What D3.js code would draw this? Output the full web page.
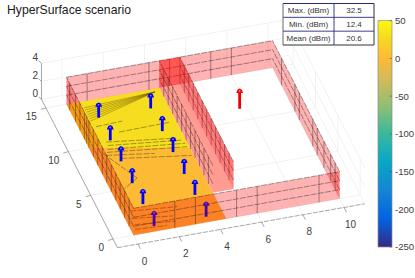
<!DOCTYPE html>
<html><head><meta charset="utf-8">
<script src="https://cdn.jsdelivr.net/npm/d3@7"></script>
<style>html,body{margin:0;padding:0;background:#fff}svg{display:block}text{font-family:"Liberation Sans",Arial,sans-serif}</style>
</head><body><svg id="c" width="415" height="278"></svg>
<script>
// ---- data ----
const titleText = "HyperSurface scenario";
const xTicks = [0,2,4,6,8,10];
const yTicks = [0,5,10,15];
const zTicks = [0,2,4];
const xLim = [-1,11], yLim = [-1,16], zLim = [0,4];
const colorTicks = [50,0,-50,-100,-150,-200,-250];
const colorStops = [[0,"#352a87"],[.125,"#0363e1"],[.25,"#1485d4"],[.375,"#06a7c6"],[.5,"#38b99e"],[.625,"#92bf73"],[.75,"#d9ba56"],[.833,"#fdba36"],[.93,"#f6dc20"],[1,"#f9fb0e"]];
const tableRows = [["Max. (dBm)","32.5"],["Min. (dBm)","12.4"],["Mean (dBm)","20.6"]];
const txPosX = [1.125,3.65];
const txPosY = [0.6,3.1,5.5,8,10.4,13];
const txHeight = 1.65;
const rxPoint = [7.6,11.3,2.2];
const floorCells = [
  {value:1,  poly:[[0,0],[4.5,0],[4.5,8.1],[0,10]]},
  {value:30, poly:[[0,10],[4.5,8.1],[4.5,15],[0,15]]}
];
const wallH = 3, wallZLines = [1,2,3];
const backVerticals = [1,4,5,5.5,7,8];
const frontVerticals = [2,3,5,6,9];
const leftVerticals = [1,2,3,4,5,6,7,8,9,10,10.5,11,12,13,14.3];
const rightVerticals = [1,2,3.5,5,6,9,10,13];
const innerVerticals = [4,5,6,7,8,9,10,11,12,13,14];
const innerBox = {x0:4.5,x1:5.5,y0:3,y1:15};
const fanLines = [
 [[4.2,14.65],[.7,14.3]],[[4.2,14.65],[.7,14.05]],[[4.2,14.65],[.7,13.8]],[[4.2,14.65],[.7,13.55]],
 [[4.2,14.65],[.7,13.3]],[[4.2,14.65],[.7,13.05]],[[4.2,14.65],[.7,12.8]]
];
const floorLines = [
 [[.8,12.1],[2.1,12.2]],[[1.7,11.1],[4.2,11.2]],
 [[.9,10.3],[4.1,9.4]],[[.9,9.9],[4.3,9.1]],[[.8,9.5],[4.4,8.7]],[[.7,9.2],[4.4,8.3]],
 [[.6,8.9],[2.8,8.2]],[[.5,9.2],[1.46,5.95]],[[1.46,5.95],[.56,4.95]],
 [[1.2,8.3],[4.4,7.3]],[[.4,2.6],[2.6,2.2]],[[.3,1.8],[2.2,1.3]],[[.3,1.1],[2.2,.7]],[[.2,.6],[1.7,.4]]
];

// ---- projection built from linear scales ----
const pxFromX = d3.scaleLinear().domain([0,10]).range([0,206]);
const pyFromX = d3.scaleLinear().domain([0,10]).range([0,-36.6]);
const pxFromY = d3.scaleLinear().domain([0,15]).range([0,-67.05]);
const pyFromY = d3.scaleLinear().domain([0,15]).range([0,-131]);
const pyFromZ = d3.scaleLinear().domain([0,4]).range([0,-36]);
const ox = 133.6, oy = 235.3;
const P = (x,y,z=0)=>[ox+pxFromX(x)+pxFromY(y), oy+pyFromX(x)+pyFromY(y)+pyFromZ(z)];
const line3 = d3.line();
const svg = d3.select("#c");
const poly = (g,pts,fill,op=1)=>g.append("path").attr("d",line3(pts)+"Z").attr("fill",fill).attr("fill-opacity",op);
const seg = (g,a,b,st,w,extra)=>{const s=g.append("path").attr("d",line3([a,b])).attr("fill","none").attr("stroke",st).attr("stroke-width",w);if(extra)s.attr("stroke-opacity",extra);return s;};

// ---- colour scale ----
const colorFrac = d3.scaleLinear().domain([-250,50]).range([0,1]);
const parula = d3.scaleLinear().domain(colorStops.map(d=>d[0])).range(colorStops.map(d=>d[1])).interpolate(d3.interpolateRgb);
const colour = v=>parula(colorFrac(v));

// ---- grid ----
const grid = svg.append("g");
const gc = "#ececec", gw = .7;
xTicks.forEach(x=>{seg(grid,P(x,yLim[0]),P(x,yLim[1]),gc,gw);seg(grid,P(x,yLim[1]),P(x,yLim[1],zLim[1]),gc,gw);});
yTicks.forEach(y=>{seg(grid,P(xLim[0],y),P(xLim[1],y),gc,gw);seg(grid,P(xLim[1],y),P(xLim[1],y,zLim[1]),gc,gw);});
zTicks.forEach(z=>{seg(grid,P(xLim[0],yLim[1],z),P(xLim[1],yLim[1],z),gc,gw);seg(grid,P(xLim[1],yLim[1],z),P(xLim[1],yLim[0],z),gc,gw);});

// ---- axes ----
const axis = svg.append("g"), ac="#808080", aw=.7;
seg(axis,P(xLim[0],yLim[0]),P(xLim[1],yLim[0]),ac,aw).attr("stroke-dasharray","5 1.2");
seg(axis,P(xLim[0],yLim[0]),P(xLim[0],yLim[1]),ac,aw);
seg(axis,P(xLim[0],yLim[1],zLim[0]),P(xLim[0],yLim[1],zLim[1]),ac,aw);
const label=(p,t,anchor,size=10)=>svg.append("text").attr("x",p[0]).attr("y",p[1]).attr("text-anchor",anchor).attr("font-size",size).attr("fill","#404040").text(t);
xTicks.forEach(x=>{const a=P(x,yLim[0]),b=P(x,yLim[0]-.55);seg(axis,a,b,ac,aw);label([a[0]+6.5,a[1]+20.5],x,"middle");});
yTicks.forEach(y=>{const a=P(xLim[0],y),b=[a[0]-5,a[1]+1.5];seg(axis,a,b,ac,aw);label([a[0]-9,a[1]+12.5],y,"end");});
zTicks.forEach(z=>{const a=P(xLim[0],yLim[1],z),b=[a[0]-3,a[1]-2.5];seg(axis,a,b,ac,aw);label([a[0]-3.5,a[1]-2.5],z,"end");});

// ---- floor ----
const scene = svg.append("g");
floorCells.forEach(c=>poly(scene,c.poly.map(d=>P(d[0],d[1])),colour(c.value)));
fanLines.forEach(l=>seg(scene,P(l[0][0],l[0][1]),P(l[1][0],l[1][1]),"#5a4500",.5,.75));
floorLines.forEach(l=>seg(scene,P(l[0][0],l[0][1]),P(l[1][0],l[1][1]),"#2a2200",.55,.75).attr("stroke-dasharray","6 1.5"));

// ---- walls ----
const wc="#ff0000", wa=.3, lc="#1a1a1a", lw=.55, lo=.75;
const zStyle = s=>s.attr("stroke-dasharray","6 1.2");
const xWall=(x,y0,y1,vs)=>{poly(scene,[P(x,y0,0),P(x,y1,0),P(x,y1,wallH),P(x,y0,wallH)],wc,wa);
  wallZLines.forEach(z=>zStyle(seg(scene,P(x,y0,z),P(x,y1,z),lc,lw,lo)));
  vs.forEach(y=>seg(scene,P(x,y,0),P(x,y,wallH),lc,lw,lo));};
const yWall=(y,x0,x1,vs)=>{poly(scene,[P(x0,y,0),P(x1,y,0),P(x1,y,wallH),P(x0,y,wallH)],wc,wa);
  wallZLines.forEach(z=>zStyle(seg(scene,P(x0,y,z),P(x1,y,z),lc,lw,lo)));
  vs.forEach(x=>seg(scene,P(x,y,0),P(x,y,wallH),lc,lw,lo));};
yWall(15,0,10,backVerticals);
xWall(10,0,15,rightVerticals);
// interior wall: pale base, end cap, far face, near face, front face, lid
const B = innerBox;
poly(scene,[P(B.x0,B.y0,0),P(B.x1,B.y0,0),P(B.x1,B.y1,0),P(B.x0,B.y1,0)],"#ffdfce");
poly(scene,[P(B.x0,B.y1,0),P(B.x1,B.y1,0),P(B.x1,B.y1,wallH),P(B.x0,B.y1,wallH)],wc,wa);
xWall(B.x1,B.y0,B.y1,innerVerticals);
poly(scene,[P(B.x0,B.y0,wallH),P(B.x1,B.y0,wallH),P(B.x1,B.y1,wallH),P(B.x0,B.y1,wallH)],wc,wa);
poly(scene,[P(B.x0,B.y0,0),P(B.x1,B.y0,0),P(B.x1,B.y0,wallH),P(B.x0,B.y0,wallH)],wc,wa);
xWall(B.x0,B.y0,B.y1,innerVerticals);

// ---- arrows ----
const arrow=(x,y,h,col,dot)=>{const a=P(x,y,0),b=P(x,y,h);
  seg(scene,a,[b[0],b[1]+3],col,2.8);
  poly(scene,[[b[0]-3.4,b[1]+4],[b[0]-2.2,b[1]+.8],[b[0],b[1]-.4],[b[0]+2.2,b[1]+.8],[b[0]+3.4,b[1]+4]],col);
  scene.append("circle").attr("cx",b[0]).attr("cy",b[1]+2).attr("r",.9).attr("fill",dot);};
txPosY.slice().reverse().forEach(y=>txPosX.forEach(x=>arrow(x,y,txHeight,"#0000ff","#7a7aff")));
arrow(rxPoint[0],rxPoint[1],rxPoint[2],"#f00000","#ff8080");

xWall(0,0,15,leftVerticals);
yWall(0,0,10,frontVerticals);

// ---- title ----
svg.append("text").attr("x",7).attr("y",14).attr("font-size",12.2).attr("fill","#1a1a1a").text(titleText);

// ---- table ----
const tbl = svg.append("g"), tx=[283,334,374], ty=d3.scaleLinear().domain([0,3]).range([3.5,45]);
tbl.append("rect").attr("x",tx[0]).attr("y",ty(0)).attr("width",tx[2]-tx[0]).attr("height",ty(3)-ty(0)).attr("fill","#fff");
[1,2].forEach(i=>seg(tbl,[tx[0],ty(i)],[tx[2],ty(i)],"#2a2a7a",.9));
seg(tbl,[tx[1],ty(0)],[tx[1],ty(3)],"#2a2a7a",.9);
seg(tbl,[tx[0],ty(0)],[tx[2],ty(0)],"#2a2a7a",1);
seg(tbl,[tx[0],ty(3)],[tx[2],ty(3)],"#333",1);
seg(tbl,[tx[0],ty(0)],[tx[0],ty(3)],"#666",1);
seg(tbl,[tx[2],ty(0)],[tx[2],ty(3)],"#333",1);
tableRows.forEach((r,i)=>{const yc=(ty(i)+ty(i+1))/2+2.8;
  tbl.append("text").attr("x",(tx[0]+tx[1])/2).attr("y",yc).attr("text-anchor","middle").attr("font-size",8).attr("fill","#333").text(r[0]);
  tbl.append("text").attr("x",(tx[1]+tx[2])/2).attr("y",yc).attr("text-anchor","middle").attr("font-size",8).attr("fill","#333").text(r[1]);});

// ---- colorbar ----
const cb = svg.append("g"), cbX=378, cbW=14;
const cbY = d3.scaleLinear().domain([50,-250]).range([20.7,247]);
const defs = svg.append("defs").append("linearGradient").attr("id","pg").attr("x1",0).attr("x2",0).attr("y1",1).attr("y2",0);
colorStops.forEach(s=>defs.append("stop").attr("offset",s[0]).attr("stop-color",s[1]));
cb.append("rect").attr("x",cbX).attr("y",cbY(50)).attr("width",cbW).attr("height",cbY(-250)-cbY(50)).attr("fill","url(#pg)").attr("stroke","#8a8a8a").attr("stroke-width",.7);
colorTicks.forEach(v=>{seg(cb,[cbX+cbW-2.5,cbY(v)],[cbX+cbW,cbY(v)],"#555",.6);
  cb.append("text").attr("x",395).attr("y",cbY(v)+3.4).attr("font-size",9.6).attr("fill","#404040").text(v);});
</script></body></html>
